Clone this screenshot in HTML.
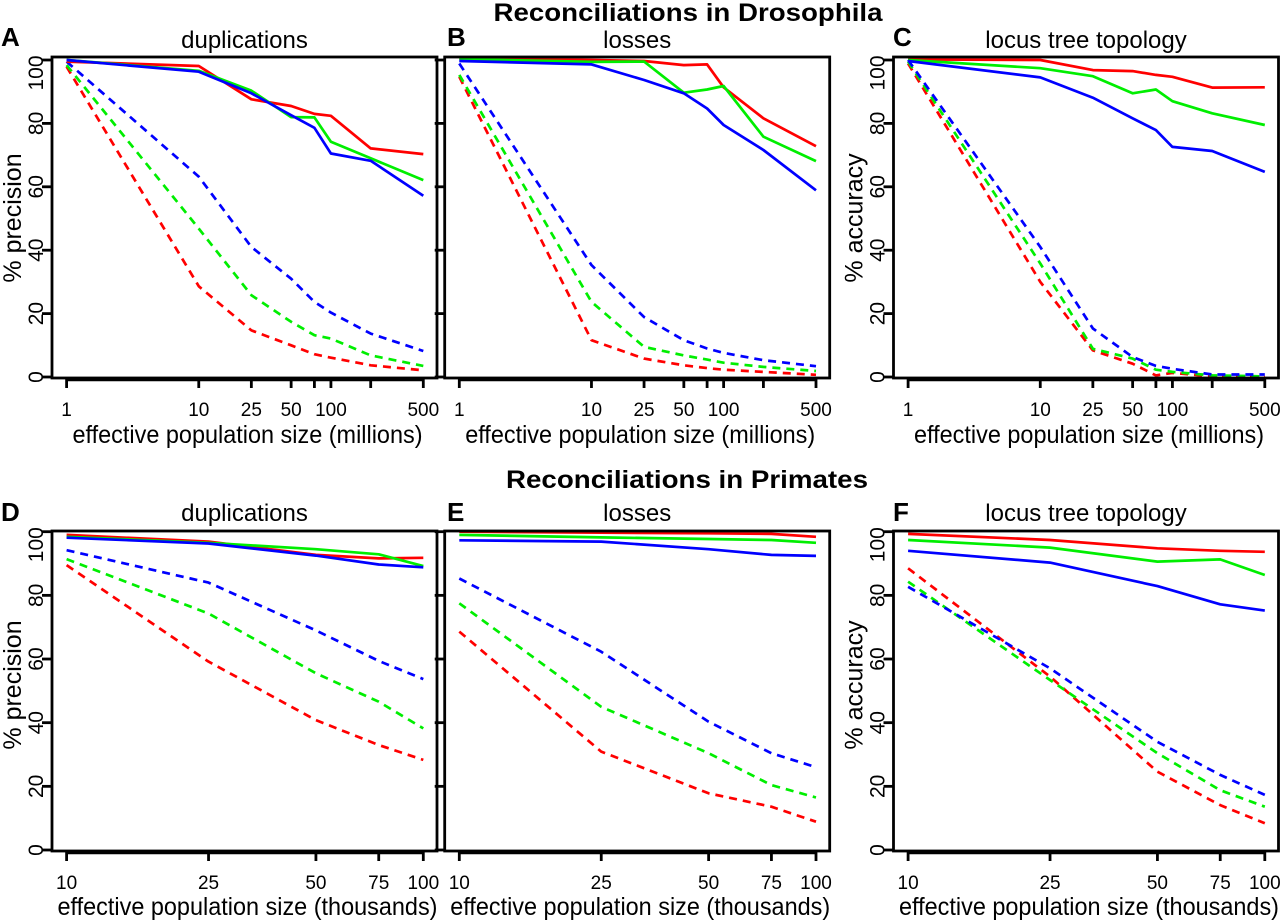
<!DOCTYPE html>
<html><head><meta charset="utf-8"><style>
html,body{margin:0;padding:0;background:#fff;}
svg{display:block;font-family:"Liberation Sans",Arial,sans-serif;}
</style></head><body>
<svg id="fig" width="1280" height="921" viewBox="0 0 1280 921" xmlns="http://www.w3.org/2000/svg">
<text x="688" y="21" text-anchor="middle" font-size="25" font-weight="bold" textLength="389" lengthAdjust="spacingAndGlyphs">Reconciliations in Drosophila</text>
<text x="687" y="488" text-anchor="middle" font-size="25" font-weight="bold" textLength="362" lengthAdjust="spacingAndGlyphs">Reconciliations in Primates</text>
</svg>
<script>
// X values
const drosX = [1, 10, 25, 50, 75, 100, 200, 500];
const drosTicks = [1, 10, 25, 50, 75, 100, 200, 500];
const drosTickLabels = ["1", "10", "25", "50", "", "100", "", "500"];
const primX = [10, 25, 50, 75, 100];
const primTicks = [10, 25, 50, 75, 100];
const primTickLabels = ["10", "25", "50", "75", "100"];
const yTicks = [0, 20, 40, 60, 80, 100];
const yTickLabels = ["0", "20", "40", "60", "80", "100"];

// Panel A: duplications (Drosophila)
const aRedSolid   = [99.5, 98.1, 87.6, 85.5, 83.0, 82.4, 72.1, 70.3];
const aGreenSolid = [100, 96.6, 90.3, 82.0, 81.9, 74.2, 69.0, 62.1];
const aBlueSolid  = [100, 96.3, 89.5, 82.6, 78.6, 70.5, 68.2, 57.2];
const aRedDash    = [97.9, 28.6, 14.7, 10.0, 7.2, 6.1, 3.7, 2.1];
const aGreenDash  = [98.4, 46.8, 25.8, 17.4, 13.2, 12.1, 6.8, 3.5];
const aBlueDash   = [99.5, 63.2, 41.0, 31.0, 23.7, 20.3, 13.7, 8.2];
// Panel B: losses (Drosophila)
const bRedSolid   = [100.5, 100, 99.7, 98.4, 98.6, 91.4, 81.6, 72.8];
const bGreenSolid = [100.3, 99.4, 99.5, 89.7, 90.7, 91.8, 75.8, 68.1];
const bBlueSolid  = [99.7, 98.6, 93.7, 89.5, 84.7, 79.5, 71.6, 58.9];
const bRedDash    = [94.7, 11.6, 5.8, 3.7, 2.8, 2.3, 1.6, 0.7];
const bGreenDash  = [95.3, 23.7, 9.5, 6.8, 5.5, 4.5, 3.2, 1.9];
const bBlueDash   = [98.9, 35.3, 18.9, 11.6, 9.0, 7.6, 5.3, 3.4];
// Panel C: locus tree topology (Drosophila)
const cRedSolid   = [100.2, 100, 96.8, 96.5, 95.3, 94.7, 91.3, 91.4];
const cGreenSolid = [100, 97.4, 94.9, 89.5, 90.7, 87.0, 83.2, 79.5];
const cBlueSolid  = [99.7, 94.5, 88.1, 81.6, 77.9, 72.6, 71.3, 64.7];
const cRedDash    = [98.9, 30.0, 8.4, 4.2, 0.5, 1.3, 0.2, 0];
const cGreenDash  = [99.5, 35.8, 8.9, 5.8, 2.3, 1.6, 0.5, 0.2];
const cBlueDash   = [100, 41.0, 15.3, 6.3, 3.5, 2.6, 0.8, 0.8];
// Panel D: duplications (Primates)
const dRedSolid   = [99.0, 96.9, 92.7, 91.6, 91.8];
const dGreenSolid = [98.4, 96.5, 94.5, 92.9, 89.2];
const dBlueSolid  = [98.1, 96.3, 92.5, 89.7, 88.8];
const dRedDash    = [89.5, 59.2, 40.8, 33.0, 28.3];
const dGreenDash  = [91.4, 74.3, 55.5, 46.6, 38.2];
const dBlueDash   = [94.2, 84.0, 69.0, 59.4, 53.7];
// Panel E: losses (Primates)
const eRedSolid   = [100, 99.7, 99.5, 99.3, 98.4];
const eGreenSolid = [99.0, 98.2, 97.7, 97.4, 96.5];
const eBlueSolid  = [97.3, 96.9, 94.5, 92.7, 92.4];
const eRedDash    = [68.6, 30.9, 17.8, 13.6, 8.9];
const eGreenDash  = [77.5, 45.0, 30.4, 20.4, 16.5];
const eBlueDash   = [85.3, 62.3, 40.3, 30.4, 26.0];
// Panel F: locus tree topology (Primates)
const fRedSolid   = [99.3, 97.4, 94.8, 94.0, 93.7];
const fGreenSolid = [97.4, 95.0, 90.6, 91.3, 86.4];
const fBlueSolid  = [94.0, 90.3, 82.9, 77.2, 75.2];
const fRedDash    = [88.5, 54.5, 24.6, 14.1, 8.4];
const fGreenDash  = [84.3, 53.4, 30.4, 18.8, 13.6];
const fBlueDash   = [82.7, 57.1, 34.0, 23.6, 17.3];

const NS = "http://www.w3.org/2000/svg";
const svg = document.getElementById('fig');
function mk(tag, attrs, parent, txt) {
  const e = document.createElementNS(NS, tag);
  for (const k in attrs) e.setAttribute(k, attrs[k]);
  if (txt !== undefined) e.textContent = txt;
  (parent || svg).appendChild(e);
  return e;
}

const panels = [
  {id:'a', letter:'A', lx:1, sub:'duplications', bx:52, ytitle:'% precision', ylabels:true, row:0,
   series:[aRedDash,aGreenDash,aBlueDash,aRedSolid,aGreenSolid,aBlueSolid]},
  {id:'b', letter:'B', lx:447, sub:'losses', bx:444.7, ytitle:'', ylabels:false, row:0,
   series:[bRedDash,bGreenDash,bBlueDash,bRedSolid,bGreenSolid,bBlueSolid]},
  {id:'c', letter:'C', lx:893, sub:'locus tree topology', bx:893.5, ytitle:'% accuracy', ylabels:true, row:0,
   series:[cRedDash,cGreenDash,cBlueDash,cRedSolid,cGreenSolid,cBlueSolid]},
  {id:'d', letter:'D', lx:1, sub:'duplications', bx:52, ytitle:'% precision', ylabels:true, row:1,
   series:[dRedDash,dGreenDash,dBlueDash,dRedSolid,dGreenSolid,dBlueSolid]},
  {id:'e', letter:'E', lx:447, sub:'losses', bx:444.7, ytitle:'', ylabels:false, row:1,
   series:[eRedDash,eGreenDash,eBlueDash,eRedSolid,eGreenSolid,eBlueSolid]},
  {id:'f', letter:'F', lx:893, sub:'locus tree topology', bx:893.5, ytitle:'% accuracy', ylabels:true, row:1,
   series:[fRedDash,fGreenDash,fBlueDash,fRedSolid,fGreenSolid,fBlueSolid]},
];
const colors = ['#ff0000','#00ee00','#0000ff','#ff0000','#00ee00','#0000ff'];
const seriesNames = ['red-dashed','green-dashed','blue-dashed','red-solid','green-solid','blue-solid'];

panels.forEach(p => {
  const top = p.row === 0;
  const xs = top ? drosX : primX;
  const ticks = top ? drosTicks : primTicks;
  const tlabels = top ? drosTickLabels : primTickLabels;
  const boxTop = top ? 57 : 531;
  const boxBot = top ? 378 : 851;
  const y0 = top ? 377 : 850;
  const yk = top ? 3.17 : 3.183;
  const yS = v => y0 - v * yk;
  const xmin = Math.log10(xs[0]), xmax = Math.log10(xs[xs.length-1]);
  const xl = p.bx + 14.6, xr = p.bx + 371.3;
  const xS = v => xl + (Math.log10(v) - xmin) / (xmax - xmin) * (xr - xl);
  const g = mk('g', {});
  
  
  const cx = p.bx + 192.5;

  const lt = mk('text', {x: p.lx, y: top ? 46 : 521, 'font-size': 26, 'font-weight': 'bold'}, g, p.letter);
  
  
  const st = mk('text', {x: cx, y: top ? 48 : 521, 'text-anchor': 'middle', 'font-size': 24}, g, p.sub);
  
  

  p.series.forEach((vals, i) => {
    const pts = vals.map((v, j) => xS(xs[j]).toFixed(1) + ',' + yS(v).toFixed(1)).join(' ');
    const attrs = {points: pts, fill: 'none', stroke: colors[i], 'stroke-width': 2.7, 'stroke-linejoin': 'round'};
    if (i < 3) attrs['stroke-dasharray'] = '8,6';
    const pl = mk('polyline', attrs, g);
    
    
  });

  const bx = mk('rect', {x: p.bx, y: boxTop, width: 385, height: boxBot - boxTop, fill: 'none', stroke: '#000', 'stroke-width': 2.8}, g);
  
  

  const ax = mk('line', {x1: xS(ticks[0]), x2: xS(ticks[ticks.length-1]), y1: boxBot + 2, y2: boxBot + 2, stroke: '#000', 'stroke-width': 2.6}, g);
  
  
  ticks.forEach((t, j) => {
    const tx = xS(t);
    const tl = mk('line', {x1: tx, x2: tx, y1: boxBot, y2: boxBot + 10, stroke: '#000', 'stroke-width': 2.8}, g);
    
    
    if (tlabels[j]) {
      const tt = mk('text', {x: tx, y: boxBot + 38, 'text-anchor': 'middle', 'font-size': 19}, g, tlabels[j]);
      
      
    }
  });
  const xt = mk('text', {x: cx + 3, y: top ? 443 : 915, 'text-anchor': 'middle', 'font-size': 25, textLength: top ? 350 : 380, lengthAdjust: 'spacingAndGlyphs'}, g,
    top ? 'effective population size (millions)' : 'effective population size (thousands)');
  
  

  yTicks.forEach((t, j) => {
    const ty = yS(t);
    const tl = mk('line', {x1: p.bx - 10, x2: p.bx, y1: ty, y2: ty, stroke: '#000', 'stroke-width': 2.8}, g);
    
    
    if (p.ylabels) {
      const ly = t === 100 ? ty + 13 : ty;
      const lx = p.bx - 9;
      const tt = mk('text', {x: lx, y: ly, 'text-anchor': 'middle', 'font-size': 21, transform: 'rotate(-90 ' + lx + ' ' + ly + ')'}, g, yTickLabels[j]);
      
      
    }
  });
  if (p.ytitle) {
    const yx = p.bx - 31, yy = top ? 218 : 685;
    const yt = mk('text', {x: yx, y: yy, 'text-anchor': 'middle', 'font-size': 25, transform: 'rotate(-90 ' + yx + ' ' + yy + ')'}, g, p.ytitle);
    
    
  }
});
</script>
</body></html>
